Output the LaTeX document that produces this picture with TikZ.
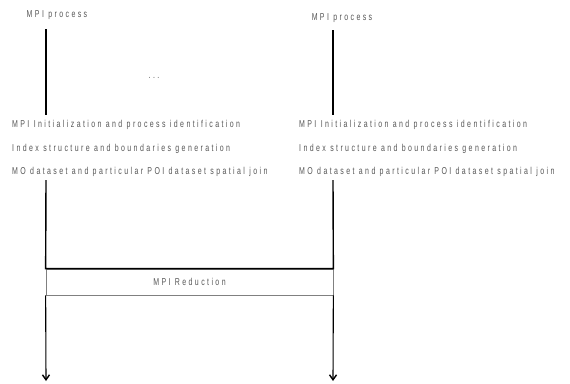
\documentclass[tikz,border=0pt]{standalone}
\usepackage{fontspec}
\setmainfont{Liberation Sans}[LetterSpace=24, FakeStretch=0.7]
\usetikzlibrary{arrows.meta}
\definecolor{txtgray}{RGB}{85,85,85}
\tikzset{
    lbl/.style={font=\fontsize{10}{12}\selectfont, text=txtgray, inner sep=0pt},
    proc/.style={line width=1.4pt, black},
    boxline/.style={line width=0.7pt, gray},
    flow/.style={line width=1.1pt, black, -{Straight Barb[length=5pt, width=7pt, line width=1.4pt]}}
}
\begin{document}
\begin{tikzpicture}[x=1pt, y=-1pt]
    \useasboundingbox (0,0) rectangle (570,383);

    % 1. Подписи процессов
    \node[lbl] (procL) at (57,15) {MPI process};
    \node[lbl] (procR) at (342,18) {MPI process};
    \node[lbl] (dots) at (154,78) {...};

    % 2. Шаги каждого процесса
    \node[lbl, anchor=west] (initL)  at (12,125) {MPI Initialization and process identification};
    \node[lbl, anchor=west] (indexL) at (12,149) {Index structure and boundaries generation};
    \node[lbl, anchor=west] (joinL)  at (12,172) {MO dataset and particular POI dataset spatial join};
    \node[lbl, anchor=west] (initR)  at (299,125) {MPI Initialization and process identification};
    \node[lbl, anchor=west] (indexR) at (299,149) {Index structure and boundaries generation};
    \node[lbl, anchor=west] (joinR)  at (299,172) {MO dataset and particular POI dataset spatial join};

    % 3. Редукция
    \node[lbl, draw=gray, line width=0.7pt, minimum width=287pt, minimum height=26pt,
          inner sep=0pt] (reduce) at (189.5,282) {MPI Reduction};

    % 4. Вертикальные линии
    \coordinate (topL) at (46,29);
    \coordinate (midL) at (46,115);
    \coordinate (topR) at (333,30);
    \coordinate (midR) at (333,115);
    \coordinate (lowL) at (46,180);
    \coordinate (lowR) at (333,180);
    \coordinate (endL) at (46,381);
    \coordinate (endR) at (333,381);
    \draw[proc] (topL) -- (midL);
    \draw[proc] (topR) -- (midR);
    \draw[proc] (lowL) -- (reduce.north west) -- (reduce.north east) -- (lowR);
    \draw[flow] (reduce.south west) -- (endL);
    \draw[flow] (reduce.south east) -- (endR);

\end{tikzpicture}
\end{document}
